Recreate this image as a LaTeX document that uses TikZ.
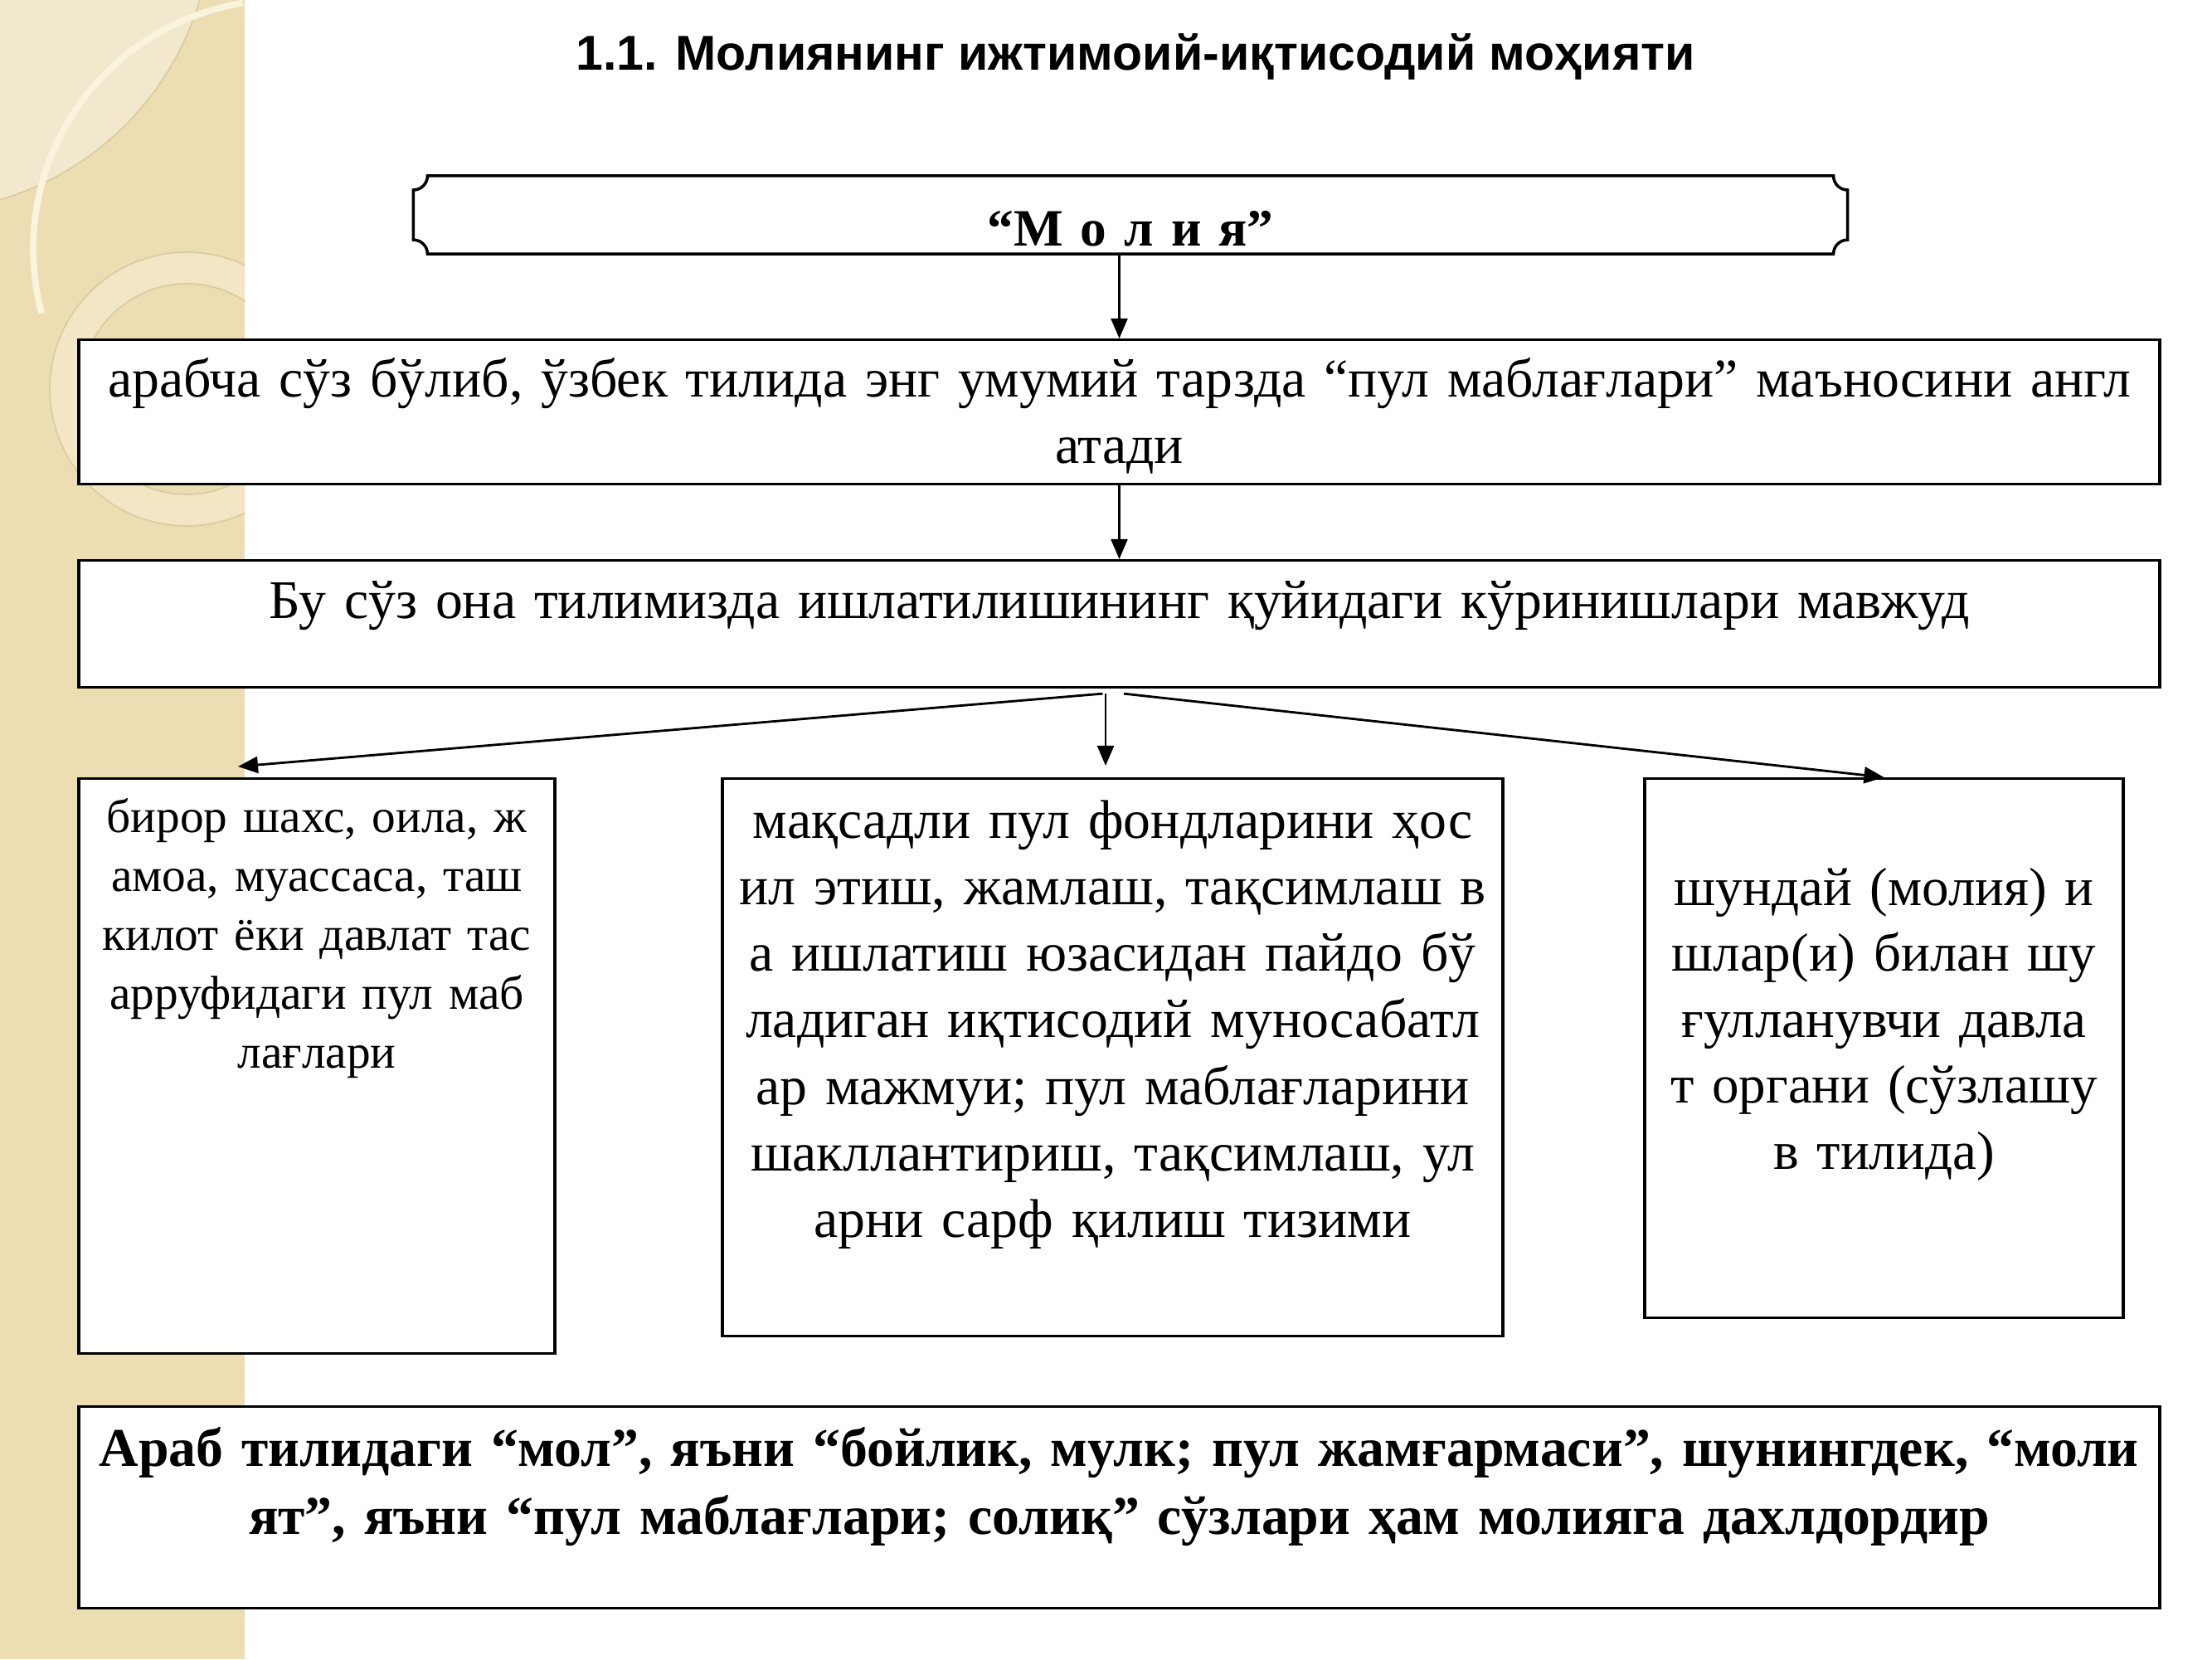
\documentclass[tikz,border=0pt]{standalone}
\usepackage{fontspec}
\setmainfont{Liberation Serif}
\newfontfamily\headfont{Liberation Sans}
\usetikzlibrary{arrows.meta}
\definecolor{stripbase}{RGB}{236,221,178}
\definecolor{striplight}{RGB}{242,232,206}
\definecolor{stripring}{RGB}{242,230,197}
\definecolor{stripedge}{RGB}{218,203,163}
\definecolor{stripglow}{RGB}{250,243,222}

\tikzset{
  box/.style={draw, fill=white, line width=0.9pt, anchor=north, align=center, inner xsep=0pt, inner ysep=0pt,
    font=\fontsize{18.7}{22.8}\selectfont},
  arr/.style={line width=0.6pt, -{Triangle[length=0.24cm,width=0.2cm]}},
  farr/.style={arr, line width=0.8pt},
}

\begin{document}
\begin{tikzpicture}
\useasboundingbox (0,0) rectangle (26.67,20);
\fill[white] (0,0) rectangle (26.67,20);
% left strip
\fill[stripbase] (0,0) rectangle (2.95,20);
\begin{scope}
  \clip (0,0) rectangle (2.95,20);
  \fill[striplight] (-1,21) circle (3.55);
  \draw[stripedge, line width=0.5pt] (-1,21) circle (3.55);
  \fill[stripring, even odd rule] (2.25,15.31) circle (1.65) circle (1.27);
  \draw[stripedge, line width=0.5pt] (2.25,15.31) circle (1.65) circle (1.27);
  \draw[stripglow, line width=2.2pt] ([shift=(99:3)]3.4,17) arc[start angle=99, end angle=195, radius=3];
\end{scope}

\node[font={\headfont\bfseries\fontsize{16.8}{20}\selectfont}, anchor=base] (title) at (13.69,19.15)
  {1.1. Молиянинг ижтимоий-иқтисодий моҳияти};

\node[box, draw=none, text width=17.26cm, text height=0.83cm, text depth=0.08cm,
  font=\bfseries\fontsize{18}{22.8}\selectfont] (mol) at (13.63,17.88) {“М о л и я”};
\draw[line width=1pt] ([xshift=0.17cm]mol.north west) -- ([xshift=-0.17cm]mol.north east)
  arc[start angle=180, end angle=270, radius=0.17cm] -- ([yshift=0.17cm]mol.south east)
  arc[start angle=90, end angle=180, radius=0.17cm] -- ([xshift=0.17cm]mol.south west)
  arc[start angle=0, end angle=90, radius=0.17cm] -- ([yshift=-0.17cm]mol.north west)
  arc[start angle=270, end angle=360, radius=0.17cm] -- cycle;

\node[box, text width=25.09cm, text height=0.69cm, text depth=1.05cm] (b1) at (13.495,15.92)
  {арабча сўз бўлиб, ўзбек тилида энг умумий тарзда  “пул маблағлари” маъносини англ\\атади};
\node[box, text width=25.09cm, text height=0.70cm, text depth=0.83cm] (b2) at (13.495,13.26)
  {Бу сўз она тилимизда ишлатилишининг қуйидаги кўринишлари мавжуд};

\node[box, text width=5.74cm, text height=0.65cm, text depth=6.28cm,
  font=\fontsize{16.3}{20.2}\selectfont] (b3) at (3.82,10.63)
  {бирор шахс, оила, ж\\амоа, муассаса, таш\\килот ёки давлат тас\\арруфидаги пул маб\\лағлари};
\node[box, text width=9.41cm, text height=0.72cm, text depth=6.00cm] (b4) at (13.415,10.63)
  {мақсадли пул фондларини ҳос\\ил этиш, жамлаш, тақсимлаш в\\а ишлатиш юзасидан пайдо бў\\ладиган иқтисодий муносабатл\\ар мажмуи; пул маблағларини\\шакллантириш, тақсимлаш, ул\\арни сарф қилиш тизими};
\node[box, text width=5.77cm, text height=1.53cm, text depth=4.97cm,
  font=\fontsize{18.5}{22.6}\selectfont] (b5) at (22.715,10.63)
  {шундай (молия) и\\шлар(и) билан шу\\ғулланувчи давла\\т органи (сўзлашу\\в тилида)};

\node[box, text width=25.09cm, text height=0.72cm, text depth=1.71cm,
  font=\bfseries\fontsize{18.7}{23.3}\selectfont] (b6) at (13.495,3.06)
  {Араб тилидаги “мол”, яъни “бойлик, мулк; пул жамғармаси”, шунингдек, “моли\\ят”, яъни “пул маблағлари; солиқ” сўзлари ҳам молияга дахлдордир};

\draw[arr] (b1.north |- mol.south) -- (b1.north);
\draw[arr] (b1.south) -- (b2.north);

\coordinate (s1) at ([xshift=-0.2cm,yshift=-0.06cm]b2.south);
\coordinate (s2) at ([xshift=-0.165cm,yshift=-0.06cm]b2.south);
\coordinate (s3) at ([xshift=0.055cm,yshift=-0.06cm]b2.south);
\coordinate (e1) at ([xshift=-0.95cm,yshift=0.13cm]b3.north);
\coordinate (e2) at ([yshift=0.14cm]s2 |- b4.north);
\draw[farr] (s1) -- (e1);
\draw[arr] (s2) -- (e2);
\draw[farr] (s3) -- (b5.north);
\end{tikzpicture}
\end{document}
